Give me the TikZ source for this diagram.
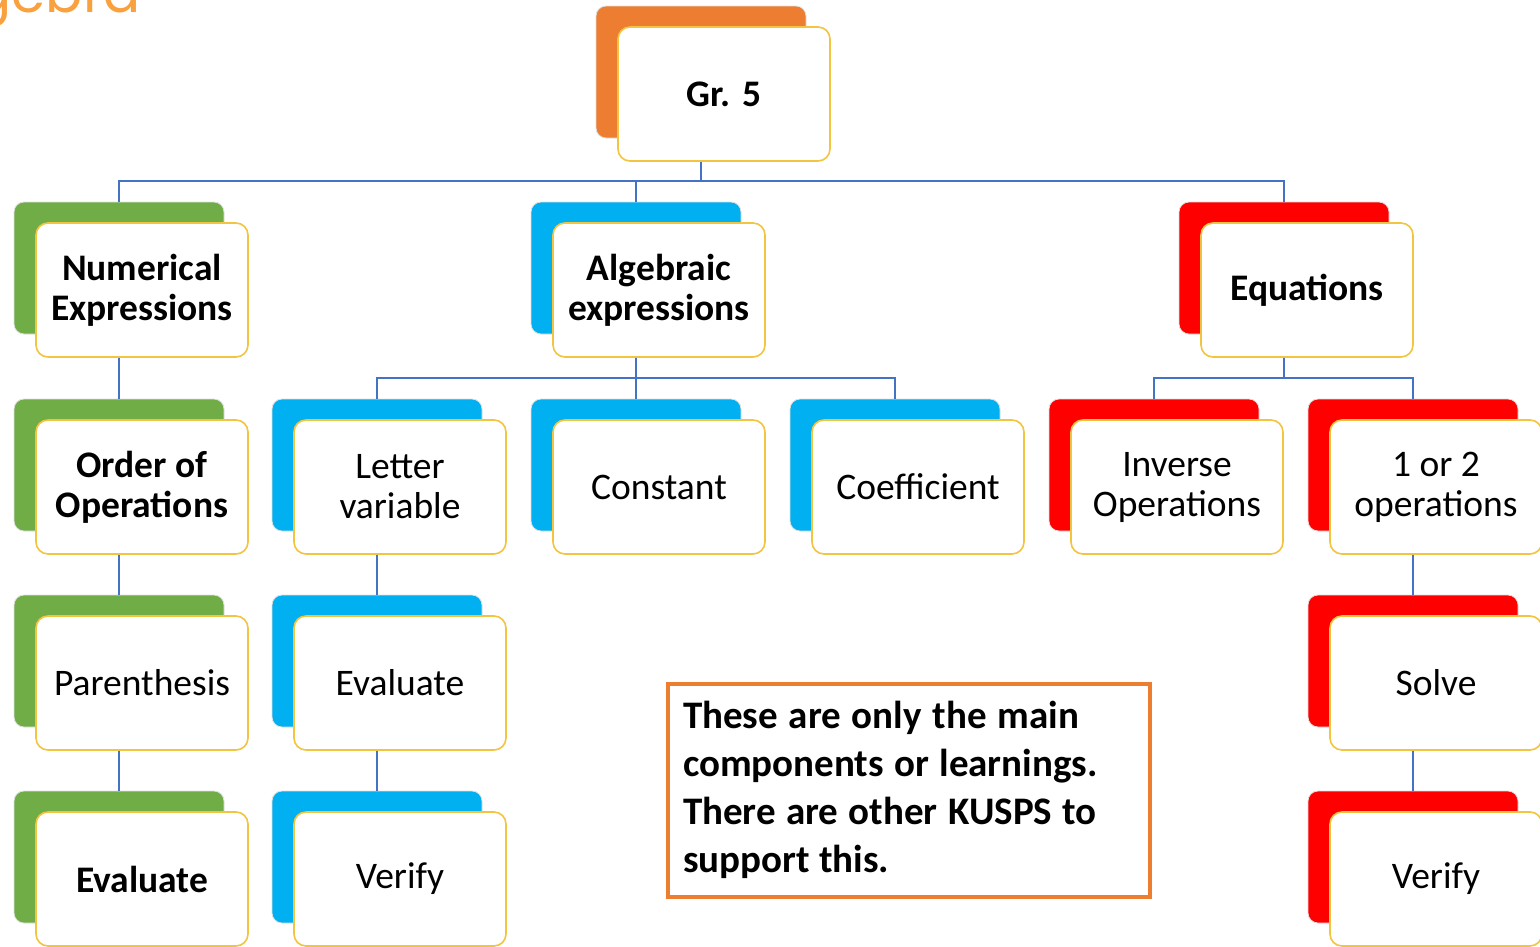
\documentclass[tikz,border=0pt]{standalone}
\usepackage{fontspec}
\setmainfont{Carlito}
\newfontfamily\titlefont{Poppins}
\definecolor{cgreen}{RGB}{112,173,71}
\definecolor{cblue}{RGB}{0,176,240}
\definecolor{cred}{RGB}{255,0,0}
\definecolor{corange}{RGB}{237,125,49}
\definecolor{cgold}{RGB}{242,196,64}
\definecolor{cline}{RGB}{68,114,196}
\definecolor{ctitle}{RGB}{249,160,63}
\newcommand\tightspace{\spaceskip=9.4pt plus 2pt minus 1pt\relax}
\tikzset{
  backbox/.style={rounded corners=10pt, minimum width=210pt, minimum height=132pt, draw=black!12, line width=0.8pt, inner sep=0pt},
  frontbox/.style={rounded corners=12pt, minimum width=212pt, minimum height=134pt, draw=cgold, fill=white, line width=1.6pt, align=center, inner sep=0pt, font=\fontsize{37.5}{40}\selectfont},
  boldtxt/.style={font=\fontsize{37.5}{40}\selectfont\bfseries},
  conn/.style={draw=cline, line width=1.8pt},
  notebox/.style={draw=corange, line width=4pt, fill=white, minimum width=482pt, minimum height=213pt, text width=452pt, align=left, inner sep=0pt, font=\fontsize{39}{48}\selectfont\bfseries}
}
% #1 name, #2 back x, #3 back y, #4 colour, #5 style, #6 text
\newcommand\mkpair[6]{%
  \node[backbox, fill=#4] (#1b) at (#2+105, #3+66) {};
  \node[frontbox, #5] (#1) at (#2+128, #3+88) {#6};
}
\begin{document}
\begin{tikzpicture}[x=1pt, y=-1pt]
\clip (0,0) rectangle (1540,946);
\fill[white] (0,0) rectangle (1540,946);
\node[anchor=base east, inner sep=0pt, text=ctitle, font=\titlefont\fontsize{55}{60}\selectfont] (title) at (141,12) {gebra};

\mkpair{gr}{596}{6}{corange}{boldtxt}{Gr. 5}
\mkpair{num}{14}{202}{cgreen}{boldtxt}{Numerical\\Expressions}
\mkpair{alg}{531}{202}{cblue}{boldtxt}{Algebraic\\expressions}
\mkpair{eq}{1179}{202}{cred}{boldtxt}{Equations}

\mkpair{ord}{14}{399}{cgreen}{boldtxt}{Order of\\Operations}
\mkpair{let}{272}{399}{cblue}{}{Letter\\variable}
\mkpair{con}{531}{399}{cblue}{}{Constant}
\mkpair{coef}{790}{399}{cblue}{}{Coefficient}
\mkpair{inv}{1049}{399}{cred}{}{Inverse\\Operations}
\mkpair{one}{1308}{399}{cred}{}{1 or 2\\operations}

\mkpair{par}{14}{595}{cgreen}{}{Parenthesis}
\mkpair{eva}{272}{595}{cblue}{}{Evaluate}
\mkpair{sol}{1308}{595}{cred}{}{Solve}

\mkpair{evn}{14}{791}{cgreen}{boldtxt}{Evaluate}
\mkpair{ver}{272}{791}{cblue}{}{Verify}
\mkpair{veq}{1308}{791}{cred}{}{Verify}

\coordinate (j1) at (701,181);
\coordinate (j2) at (636,378);
\coordinate (j3) at (1284,378);

\draw[conn] (gr.south -| grb) -- (j1);
\draw[conn] (numb.north) |- (j1) -| (eqb.north);
\draw[conn] (algb.north) -- (algb.north |- j1);

\draw[conn] (num.south -| numb) -- (ordb.north);
\draw[conn] (ord.south -| ordb) -- (parb.north);
\draw[conn] (par.south -| parb) -- (evnb.north);

\draw[conn] (alg.south -| algb) -- (conb.north);
\draw[conn] (letb.north) |- (j2) -| (coefb.north);
\draw[conn] (let.south -| letb) -- (evab.north);
\draw[conn] (eva.south -| evab) -- (verb.north);

\draw[conn] (eq.south -| eqb) -- (j3);
\draw[conn] (invb.north) |- (j3) -| (oneb.north);
\draw[conn] (one.south -| oneb) -- (solb.north);
\draw[conn] (sol.south -| solb) -- (veqb.north);

\node[notebox] (note) at (909,790) {\tightspace These are only the main components or learnings. There are other KUSPS to support this.};
\end{tikzpicture}
\end{document}
